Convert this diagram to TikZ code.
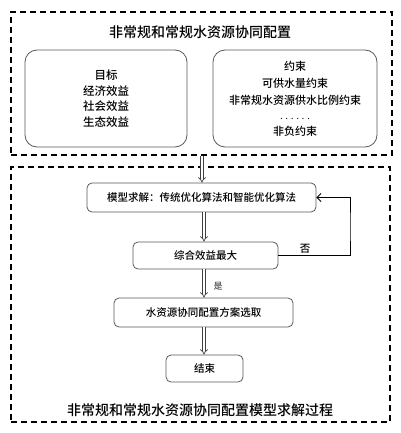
\documentclass[tikz,border=0pt]{standalone}
\usepackage{fontspec}
\setmainfont{Noto Sans CJK SC}[UprightFont=* Medium]
\usetikzlibrary{arrows.meta}
\begin{document}
\begin{tikzpicture}[x=1pt,y=-1pt,
  dbox/.style={draw=black,line width=1.1pt,dash pattern=on 6pt off 4pt,minimum width=#1},
  rbox/.style={draw=black!65,line width=0.8pt,rounded corners=12pt,align=center,font=\fontsize{11.5}{15.5}\selectfont},
  fbox/.style={draw=black!65,line width=0.8pt,rounded corners=5pt,align=center,font=\fontsize{10.5}{13}\selectfont},
  dar/.style={draw=black!75,line width=0.7pt,double=white,double distance=2pt,-{Implies[length=2.5pt]}},
  fb/.style={draw=black,line width=0.9pt,-{Straight Barb[length=4pt,width=8pt]}},
  ttl/.style={font=\fontsize{14}{16}\selectfont},
  lbl/.style={font=\fontsize{10.5}{12}\selectfont}
]
\useasboundingbox (0,0) rectangle (400,433);
% dashed containers
\node[dbox=381pt,minimum height=143pt,inner sep=0pt] (top) at (201.5,83.5) {};
\node[dbox=379pt,minimum height=255pt,inner sep=0pt] (bot) at (200.5,294.5) {};
% titles
\node[ttl] (t1) at (200,32) {非常规和常规水资源协同配置};
\node[ttl] (t2) at (200,410) {非常规和常规水资源协同配置模型求解过程};
% top boxes
\node[rbox,minimum width=162pt,minimum height=97pt] (goal) at (106,98.5)
  {目标\\经济效益\\社会效益\\生态效益};
\node[rbox,minimum width=164pt,minimum height=97pt,font=\fontsize{11}{17}\selectfont] (cons) at (295,98.5)
  {约束\\可供水量约束\\非常规水资源供水比例约束\\[-2pt]{\fontsize{8}{8}\selectfont .\hspace{3pt}.\hspace{3pt}.\hspace{3pt}.\hspace{3pt}.\hspace{3pt}.}\\[-1pt]非负约束};
% flow boxes
\node[fbox,minimum width=229pt,minimum height=29pt] (b1) at (201.5,197.5) {模型求解：传统优化算法和智能优化算法};
\node[fbox,minimum width=145pt,minimum height=27pt] (b2) at (205.5,255.5) {综合效益最大};
\node[fbox,minimum width=179pt,minimum height=29pt] (b3) at (203.5,312.5) {水资源协同配置方案选取};
\node[fbox,minimum width=77pt,minimum height=27pt] (b4) at (204.5,368.5) {结束};
% arrow axes
\coordinate (ax0) at (202,0);
\coordinate (ax) at (204,0);
\draw[dar] (top.south -| ax0) -- (b1.north -| ax0);
\draw[dar] (b1.south -| ax) -- (b2.north -| ax);
\draw[dar] (b2.south -| ax) -- (b3.north -| ax);
\draw[dar] (b3.south -| ax) -- (b4.north -| ax);
% feedback
\coordinate (fbk) at (350,227);
\draw[fb] (b2.east) -| (fbk) |- (b1.east);
\node[lbl] (no) at (305,249) {否};
\node[lbl,font=\fontsize{9}{10}\selectfont,text=black!70] (yes) at (218,286) {是};
\end{tikzpicture}
\end{document}
